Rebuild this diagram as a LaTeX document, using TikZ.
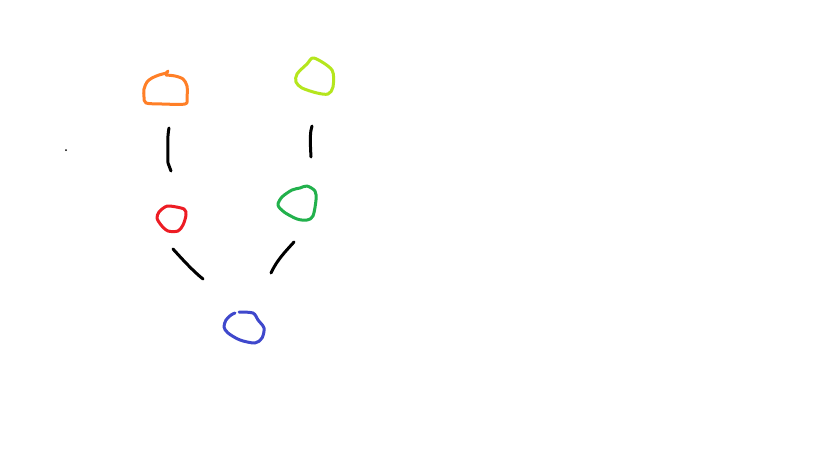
\documentclass[tikz,border=0pt]{standalone}
\definecolor{pOrange}{HTML}{FF7F27}
\definecolor{pLime}{HTML}{B5E61D}
\definecolor{pRed}{HTML}{ED1C24}
\definecolor{pGreen}{HTML}{22B14C}
\definecolor{pBlue}{HTML}{3F48CC}
\begin{document}
\begin{tikzpicture}[x=1pt,y=-1pt,
  blob/.style={line width=3pt,line join=round,line cap=round},
  edge/.style={line width=3pt,black,line cap=round,line join=round}]
\useasboundingbox[fill=white] (0,0) rectangle (819,460);
% orange
\draw[blob,pOrange] plot[smooth,tension=0.5] coordinates{(168,71)(166,73)(159,75)(152,78)(147,82)(144,89)(144,97)(146,103)(162,104)(185,104)(187,98)(187,86)(183,79)(175,76)(166,75)};
% lime
\draw[blob,pLime] plot[smooth cycle,tension=0.5] coordinates{(314,58)(332,70)(333,87)(328,94)(317,93)(302,88)(296,82)(297,74)(307,64)};
% red
\draw[blob,pRed] plot[smooth cycle,tension=0.5] coordinates{(170,206)(184,209)(186,215)(183,225)(178,231)(168,231)(161,225)(157,218)(159,212)(165,207)};
% green
\draw[blob,pGreen] plot[smooth cycle,tension=0.5] coordinates{(307,186)(315,191)(316,200)(313,216)(307,220)(297,219)(284,212)(278,205)(282,197)(292,190)(300,188)};
% blue
\draw[blob,pBlue] plot[smooth,tension=0.5] coordinates{(239,312)(253,313)(258,320)(264,328)(262,338)(255,343)(240,340)(228,333)(224,327)(226,320)(231,315)(235,313)};
% connectors
\coordinate (a1) at (169,128); \coordinate (a2) at (171,171);
\draw[edge] (a1) .. controls (167,138) and (168,150) .. (168,163) -- (a2);
\coordinate (b1) at (312,126); \coordinate (b2) at (311,157);
\draw[edge] (b1) .. controls (310,132) and (310,140) .. (b2);
\coordinate (c1) at (173,249); \coordinate (c2) at (203,279);
\draw[edge] (c1) .. controls (183,260) and (193,271) .. (c2);
\coordinate (d1) at (294,242); \coordinate (d2) at (271,273);
\draw[edge] (d1) .. controls (285,252) and (277,260) .. (d2);
% dot
\fill[black] (66,150) circle (1);
\end{tikzpicture}
\end{document}
